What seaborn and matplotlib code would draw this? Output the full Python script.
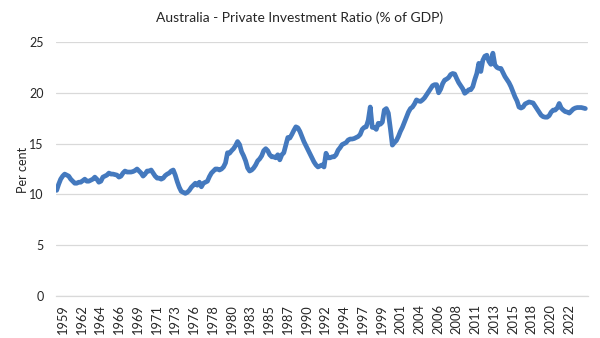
import numpy as np
import pandas as pd
import matplotlib
matplotlib.use("Agg")
import matplotlib.pyplot as plt
import seaborn as sns

# Private gross fixed capital formation as a share of GDP, quarterly, from 1959 Q1
ratio_1959_1968 = [
    10.4, 11.0, 11.5, 11.8,   # 1959
    12.0, 11.9, 11.8, 11.5,   # 1960
    11.3, 11.1, 11.1, 11.2,   # 1961
    11.2, 11.35, 11.5, 11.3,  # 1962
    11.3, 11.4, 11.5, 11.7,   # 1963
    11.5, 11.2, 11.3, 11.7,   # 1964
    11.8, 11.9, 12.1, 12.0,   # 1965
    12.0, 11.95, 11.9, 11.7,  # 1966
    11.8, 12.1, 12.3, 12.2,   # 1967
    12.2, 12.2, 12.25, 12.35, # 1968
]
ratio_1969_1978 = [
    12.5, 12.3, 12.1, 11.8,   # 1969
    12.0, 12.3, 12.3, 12.4,   # 1970
    12.1, 11.8, 11.6, 11.6,   # 1971
    11.5, 11.6, 11.85, 12.0,  # 1972
    12.1, 12.3, 12.4, 11.9,   # 1973
    11.25, 10.7, 10.3, 10.2,  # 1974
    10.1, 10.2, 10.4, 10.7,   # 1975
    10.9, 11.1, 10.9, 11.2,   # 1976
    10.75, 11.1, 11.2, 11.3,  # 1977
    11.75, 12.1, 12.3, 12.5,  # 1978
]
ratio_1979_1988 = [
    12.5, 12.4, 12.5, 12.7,   # 1979
    13.1, 14.1, 14.05, 14.3,  # 1980
    14.5, 14.8, 15.2, 14.9,   # 1981
    14.2, 13.8, 13.3, 12.6,   # 1982
    12.3, 12.4, 12.6, 12.9,   # 1983
    13.3, 13.5, 13.8, 14.3,   # 1984
    14.5, 14.3, 13.9, 13.7,   # 1985
    13.7, 13.6, 13.9, 13.4,   # 1986
    13.9, 14.1, 14.85, 15.6,  # 1987
    15.55, 15.9, 16.3, 16.65, # 1988
]
ratio_1989_1998 = [
    16.55, 16.2, 15.7, 15.2,  # 1989
    14.8, 14.4, 14.0, 13.6,   # 1990
    13.2, 12.9, 12.7, 12.8,   # 1991
    12.9, 12.7, 14.05, 13.6,  # 1992
    13.6, 13.7, 13.7, 13.9,   # 1993
    14.35, 14.6, 14.9, 15.0,  # 1994
    15.1, 15.35, 15.45, 15.45,# 1995
    15.5, 15.6, 15.7, 15.9,   # 1996
    16.4, 16.6, 16.65, 17.3,  # 1997
    18.6, 16.6, 16.6, 16.4,   # 1998
]
ratio_1999_2008 = [
    17.0, 16.9, 17.1, 18.3,   # 1999
    18.45, 18.0, 16.5, 14.85, # 2000
    15.1, 15.3, 15.7, 16.2,   # 2001
    16.6, 17.1, 17.6, 18.1,   # 2002
    18.45, 18.6, 18.9, 19.3,  # 2003
    19.2, 19.15, 19.3, 19.5,  # 2004
    19.8, 20.1, 20.4, 20.7,   # 2005
    20.8, 20.8, 20.0, 20.35,  # 2006
    20.9, 21.25, 21.35, 21.5, # 2007
    21.8, 21.9, 21.85, 21.4,  # 2008
]
ratio_2009_2018 = [
    21.0, 20.7, 20.4, 19.95,  # 2009
    20.1, 20.3, 20.3, 20.6,   # 2010
    21.3, 21.9, 22.9, 22.1,   # 2011
    23.2, 23.6, 23.7, 23.1,   # 2012
    22.8, 23.9, 22.75, 22.5,  # 2013
    22.4, 22.4, 22.0, 21.6,   # 2014
    21.3, 21.0, 20.6, 20.1,   # 2015
    19.6, 19.2, 18.6, 18.5,   # 2016
    18.6, 18.9, 19.0, 19.1,   # 2017
    19.05, 19.0, 18.7, 18.4,  # 2018
]
ratio_2019_2024 = [
    18.1, 17.8, 17.65, 17.6,  # 2019
    17.6, 17.75, 18.1, 18.3,  # 2020
    18.3, 18.5, 18.95, 18.5,  # 2021
    18.3, 18.15, 18.1, 18.0,  # 2022
    18.2, 18.4, 18.5, 18.55,  # 2023
    18.55, 18.55, 18.5, 18.45,# 2024
]

tick_years = ["1959", "1962", "1964", "1966", "1969", "1971", "1973", "1976",
              "1978", "1980", "1983", "1985", "1987", "1990", "1992", "1994",
              "1997", "1999", "2001", "2004", "2006", "2008", "2011", "2013",
              "2015", "2018", "2020", "2022"]

ratio = (ratio_1959_1968 + ratio_1969_1978 + ratio_1979_1988 + ratio_1989_1998
         + ratio_1999_2008 + ratio_2009_2018 + ratio_2019_2024)

quarters = pd.period_range("1959Q1", periods=len(ratio), freq="Q")
df = pd.DataFrame({
    "t": quarters.year + (quarters.quarter - 1) / 4.0,
    "ratio": ratio,
})

sns.set_theme(style="white")
plt.rcParams["font.family"] = ["Lato", "DejaVu Sans"]

fig = plt.figure(figsize=(6.0, 3.38), dpi=100)
ax = fig.add_axes([56 / 600, 42 / 338, 532 / 600, 254 / 338])

sns.lineplot(data=df, x="t", y="ratio", ax=ax, color="#4479BE",
             linewidth=3.4, solid_joinstyle="round", solid_capstyle="round")

# Axis labels every 28 months, starting from the final quarter of 1959
tick_pos = [1959.75 + k * 28 / 12 for k in range(len(tick_years))]

ax.set_xlim(1958.92, 2025.08)
ax.set_ylim(0, 25)
ax.set_yticks(range(0, 26, 5))
ax.set_xticks(tick_pos)
ax.set_xticklabels(tick_years, rotation=90)
ax.set_xlabel("")
ax.set_ylabel("")

ax.yaxis.grid(True, color="#d9d9d9", linewidth=0.9)
ax.xaxis.grid(False)
ax.set_axisbelow(True)
for side in ("top", "right", "left"):
    ax.spines[side].set_visible(False)
ax.spines["bottom"].set_color("#d9d9d9")
ax.spines["bottom"].set_linewidth(0.9)

ax.tick_params(axis="y", length=0, pad=9, labelsize=9, labelcolor="#262626")
ax.tick_params(axis="x", length=4, width=0.8, color="#d9d9d9", pad=2,
               labelsize=9.3, labelcolor="#262626")

fig.text(0.5, 1 - 18 / 338, "Australia - Private Investment Ratio (% of GDP)",
         ha="center", va="center", fontsize=10, color="#262626")
fig.text(23 / 600, 1 - 170 / 338, "Per cent", rotation=90,
         ha="center", va="center", fontsize=9, color="#262626")

fig.savefig("out.png", dpi=100)
